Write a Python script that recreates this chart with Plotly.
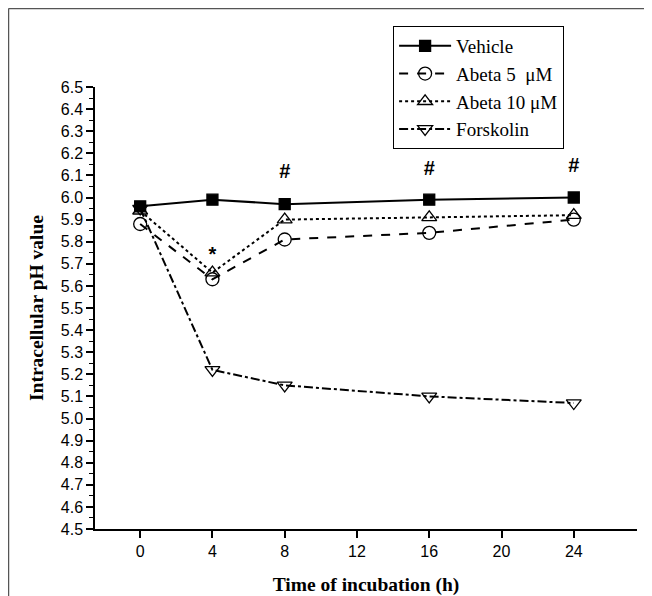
import plotly.graph_objects as go

time_h = [0, 4, 8, 16, 24]
vehicle = [5.96, 5.99, 5.97, 5.99, 6.00]
abeta5 = [5.88, 5.63, 5.81, 5.84, 5.90]
abeta10 = [5.94, 5.66, 5.90, 5.91, 5.92]
forskolin = [5.95, 5.22, 5.15, 5.10, 5.07]

names = ["Vehicle", "Abeta 5 \u00a0\u03bcM", "Abeta 10 \u03bcM", "Forskolin"]
star_x = [4]
star_y = [5.735]
hash_x = [8, 16, 24]
hash_y = [6.11, 6.125, 6.14]

y_ticks = [round(4.5 + 0.1 * i, 1) for i in range(21)]
x_ticks = [0, 4, 8, 12, 16, 20, 24]

fig = go.Figure()
styles = [
    (vehicle, "solid", "square", "black", 11),
    (abeta5, "dash", "circle-open", "black", 13),
    (abeta10, "dot", "triangle-up-open", "black", 13),
    (forskolin, "dashdot", "triangle-down-open", "black", 13),
]
for (vals, dash, sym, col, sz), nm in zip(styles, names):
    fig.add_trace(go.Scatter(
        x=time_h, y=vals, name=nm, mode="lines+markers",
        line=dict(color="black", width=2, dash=dash),
        marker=dict(symbol=sym, size=sz, color=col,
                    line=dict(color="black", width=1.3)),
    ))

fig.add_trace(go.Scatter(x=star_x, y=star_y, mode="text", text=["<b>*</b>"],
                         textfont=dict(family="Liberation Sans", size=20, color="black"),
                         showlegend=False))
fig.add_trace(go.Scatter(x=hash_x, y=hash_y, mode="text", text=["<b>#</b>"] * 3,
                         textfont=dict(family="Liberation Sans", size=20, color="black"),
                         showlegend=False))

fig.update_layout(
    width=644, height=588,
    margin=dict(l=87, r=15, t=79, b=67, autoexpand=False),
    plot_bgcolor="white", paper_bgcolor="white",
    showlegend=True,
    legend=dict(x=0.55, y=1.138, xanchor="left", yanchor="top",
                bordercolor="black", borderwidth=1, bgcolor="white",
                font=dict(family="Liberation Serif", size=19, color="black"),
                itemwidth=52, tracegroupgap=0),
    xaxis=dict(range=[-2.5, 27.5], tickvals=x_ticks, ticks="outside", ticklen=7,
               tickwidth=1.5, tickcolor="black", showline=True, linecolor="black",
               linewidth=1.5, showgrid=False, zeroline=False, automargin=False,
               tickfont=dict(family="Liberation Sans", size=16, color="black"),
               title=dict(text="<b>Time of incubation (h)</b>", standoff=20,
                          font=dict(family="Liberation Serif", size=19.5, color="black"))),
    yaxis=dict(range=[4.5, 6.5], tickvals=y_ticks, tickformat=".1f", ticks="outside",
               ticklen=7, tickwidth=1.5, tickcolor="black", showline=True,
               linecolor="black", linewidth=1.5, showgrid=False, zeroline=False,
               automargin=False,
               minor=dict(dtick=0.05, ticks="outside", ticklen=4, tickcolor="black", tickwidth=1),
               tickfont=dict(family="Liberation Sans", size=16, color="black"),
               title=dict(text="<b>Intracellular pH value</b>", standoff=12,
                          font=dict(family="Liberation Serif", size=19.5, color="black"))),
)

# outer frame lines (top and left)
fig.add_shape(type="line", xref="paper", yref="paper", x0=-0.1596, x1=1.03, y0=1.1776, y1=1.1776,
              line=dict(color="#555555", width=1.5))
fig.add_shape(type="line", xref="paper", yref="paper", x0=-0.1596, x1=-0.1596, y0=-0.16, y1=1.1776,
              line=dict(color="#555555", width=1.5))

fig.write_html("out.html")
